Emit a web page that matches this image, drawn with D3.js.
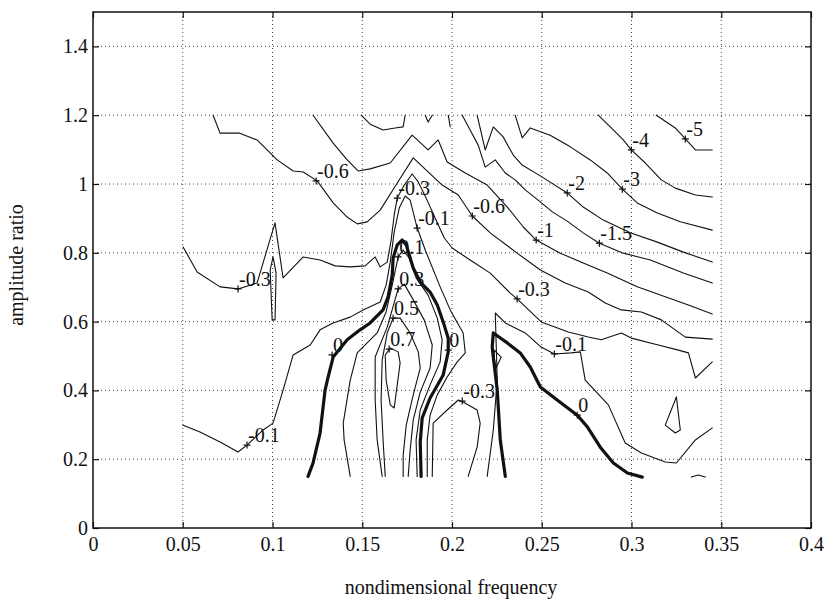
<!DOCTYPE html>
<html>
<head>
<meta charset="utf-8">
<script src="https://cdn.jsdelivr.net/npm/d3@7"></script>
<style>
    body { margin: 0; background: #fff; }
    text { font-family: "Liberation Serif", "Times New Roman", serif; fill: #111; }
</style>
</head>
<body>
<svg id="chart"></svg>
<script>
// axis ticks
const xTicks = [0, 0.05, 0.1, 0.15, 0.2, 0.25, 0.3, 0.35, 0.4];
const xTickLabels = ["0", "0.05", "0.1", "0.15", "0.2", "0.25", "0.3", "0.35", "0.4"];
const yTicks = [0, 0.2, 0.4, 0.6, 0.8, 1, 1.2, 1.4];
const yTickLabels = ["0", "0.2", "0.4", "0.6", "0.8", "1", "1.2", "1.4"];

// contour lines, points are [nondimensional frequency, amplitude ratio]
const cM5 = [[0.3138,1.2],[0.3244,1.163],[0.3300,1.131],[0.3356,1.099],[0.345,1.099]];
const cM4 = [[0.2815,1.2],[0.2887,1.163],[0.2954,1.128],[0.2999,1.099],[0.3077,1.061],[0.3166,1.012],[0.3244,0.988],[0.3356,0.968],[0.345,0.962]];
const cM3 = [[0.2352,1.2],[0.2391,1.134],[0.2436,1.163],[0.2547,1.142],[0.2659,1.108],[0.2770,1.070],[0.2865,1.032],[0.2949,0.985],[0.3032,0.945],[0.3144,0.916],[0.3272,0.890],[0.345,0.866]];
const cM2 = [[0.2140,1.2],[0.2185,1.099],[0.2230,1.166],[0.2285,1.137],[0.2341,1.084],[0.2391,1.055],[0.2503,1.020],[0.2642,0.974],[0.2731,0.933],[0.2843,0.895],[0.2993,0.858],[0.3144,0.831],[0.3289,0.802],[0.345,0.773]];
const cM15 = [[0.2057,1.2],[0.2101,1.157],[0.2146,1.113],[0.2185,1.049],[0.2241,1.070],[0.2297,1.032],[0.2352,1.012],[0.2408,0.983],[0.2480,0.953],[0.2559,0.919],[0.2642,0.892],[0.2731,0.858],[0.2821,0.828],[0.2954,0.799],[0.3105,0.779],[0.3289,0.741],[0.345,0.712]];
const cM15top = [[0.1494,1.2],[0.1544,1.174],[0.1616,1.157],[0.1683,1.163],[0.1728,1.166],[0.1739,1.2]];
const cM15bit = [[0.1851,1.2],[0.1867,1.180],[0.1890,1.2]];
const cM15stub = [[0.1979,1.2],[0.1990,1.166]];
const cM1 = [[0.1226,1.2],[0.1338,1.119],[0.1416,1.070],[0.1477,1.038],[0.1544,1.044],[0.1656,1.061],[0.1778,1.142],[0.1867,1.099],[0.1923,1.128],[0.1973,1.064],[0.2074,1.032],[0.2196,0.997],[0.2308,0.933],[0.2397,0.875],[0.2469,0.837],[0.2603,0.799],[0.2731,0.770],[0.2865,0.741],[0.3032,0.701],[0.3188,0.672],[0.3317,0.648],[0.345,0.622]];
const cM06 = [[0.0669,1.2],[0.0708,1.148],[0.0814,1.148],[0.0914,1.128],[0.1026,1.070],[0.1115,1.038],[0.1171,1.035],[0.1249,1.009],[0.1338,0.945],[0.1416,0.904],[0.1472,0.884],[0.1527,0.890],[0.1600,0.924],[0.1695,1.003],[0.1784,1.076],[0.1867,1.035],[0.1945,0.997],[0.2035,0.968],[0.2113,0.907],[0.2213,0.858],[0.2363,0.799],[0.2492,0.750],[0.2631,0.712],[0.2759,0.686],[0.2854,0.654],[0.2943,0.634],[0.3055,0.628],[0.3166,0.605],[0.3300,0.555],[0.345,0.549]];
const cM03 = [[0.0502,0.817],[0.0580,0.744],[0.0708,0.701],[0.0808,0.695],[0.0914,0.712],[0.1014,0.887],[0.1059,0.727],[0.1171,0.788],[0.1265,0.779],[0.1349,0.762],[0.1433,0.759],[0.1516,0.762],[0.1572,0.788],[0.1600,0.759],[0.1639,0.773],[0.1661,0.837],[0.1678,0.910],[0.1695,0.959],[0.1734,0.997],[0.1778,1.029],[0.1812,1.006],[0.1856,0.959],[0.1906,0.901],[0.1957,0.843],[0.2001,0.814],[0.2101,0.779],[0.2213,0.741],[0.2324,0.683],[0.2363,0.666],[0.2497,0.599],[0.2648,0.570],[0.2759,0.555],[0.2832,0.547],[0.2943,0.567],[0.2999,0.552],[0.3149,0.532],[0.3261,0.517],[0.3317,0.509],[0.3356,0.436],[0.345,0.483]];
const cM03spike = [[0.0987,0.750],[0.1003,0.788],[0.1020,0.741],[0.1014,0.605],[0.0998,0.605],[0.0987,0.750]];
const cM03loop = [[0.1890,0.15],[0.1895,0.305],[0.1973,0.343],[0.2035,0.372],[0.2062,0.366],[0.2140,0.343],[0.2157,0.305],[0.2140,0.235],[0.2090,0.15]];
const cM01 = [[0.0502,0.299],[0.0596,0.279],[0.0708,0.250],[0.0808,0.221],[0.0858,0.241],[0.0948,0.285],[0.1003,0.305],[0.1059,0.401],[0.1115,0.503],[0.1210,0.532],[0.1265,0.576],[0.1338,0.596],[0.1433,0.613],[0.1505,0.634],[0.1600,0.657],[0.1633,0.706],[0.1656,0.773],[0.1678,0.860],[0.1706,0.930],[0.1739,0.965],[0.1767,0.953],[0.1806,0.872],[0.1851,0.808],[0.1934,0.701],[0.1990,0.634],[0.2062,0.567],[0.2074,0.509],[0.2029,0.483],[0.1973,0.439],[0.1918,0.387],[0.1878,0.328],[0.1862,0.256],[0.1862,0.15]];
const cM01right = [[0.2196,0.15],[0.2230,0.285],[0.2252,0.430],[0.2241,0.625],[0.2297,0.596],[0.2408,0.567],[0.2497,0.526],[0.2570,0.506],[0.2664,0.509],[0.2715,0.512],[0.2742,0.430],[0.2871,0.358],[0.2965,0.247],[0.3055,0.218],[0.3188,0.192],[0.3250,0.189],[0.3356,0.256],[0.345,0.291]];
const cM01diamond = [[0.2235,0.517],[0.2274,0.497],[0.2246,0.465],[0.2235,0.494],[0.2235,0.517]];
const cM01tri = [[0.3250,0.381],[0.3272,0.285],[0.3244,0.276],[0.3188,0.299],[0.3250,0.381]];
const cM01dash = [[0.3333,0.148],[0.3372,0.154],[0.3411,0.148]];
const c0 = [[0.1198,0.15],[0.1226,0.189],[0.1265,0.276],[0.1282,0.352],[0.1293,0.401],[0.1310,0.439],[0.1338,0.497],[0.1416,0.547],[0.1488,0.576],[0.1544,0.596],[0.1616,0.634],[0.1644,0.672],[0.1667,0.735],[0.1672,0.785],[0.1695,0.823],[0.1722,0.837],[0.1745,0.823],[0.1784,0.756],[0.1823,0.715],[0.1878,0.686],[0.1918,0.648],[0.1951,0.599],[0.1979,0.552],[0.1979,0.512],[0.1951,0.445],[0.1878,0.378],[0.1834,0.320],[0.1823,0.250],[0.1828,0.15]];
const c0right = [[0.2297,0.15],[0.2269,0.256],[0.2252,0.401],[0.2230,0.497],[0.2224,0.526],[0.2230,0.567],[0.2308,0.538],[0.2380,0.509],[0.2436,0.468],[0.2492,0.410],[0.2586,0.372],[0.2698,0.328],[0.2754,0.294],[0.2826,0.235],[0.2899,0.189],[0.2977,0.160],[0.3060,0.148]];
const c01 = [[0.1433,0.15],[0.1399,0.256],[0.1394,0.305],[0.1433,0.430],[0.1472,0.509],[0.1583,0.567],[0.1633,0.628],[0.1667,0.706],[0.1700,0.788],[0.1728,0.808],[0.1761,0.785],[0.1800,0.727],[0.1867,0.677],[0.1918,0.610],[0.1945,0.547],[0.1934,0.483],[0.1878,0.416],[0.1823,0.343],[0.1800,0.256],[0.1806,0.15]];
const c03 = [[0.1611,0.15],[0.1583,0.256],[0.1572,0.372],[0.1572,0.497],[0.1639,0.584],[0.1700,0.695],[0.1734,0.709],[0.1778,0.669],[0.1845,0.605],[0.1890,0.532],[0.1878,0.465],[0.1823,0.395],[0.1784,0.314],[0.1767,0.227],[0.1756,0.15]];
const c05 = [[0.1628,0.15],[0.1616,0.256],[0.1605,0.372],[0.1611,0.488],[0.1639,0.567],[0.1672,0.610],[0.1711,0.610],[0.1767,0.567],[0.1812,0.512],[0.1823,0.465],[0.1784,0.387],[0.1745,0.299],[0.1728,0.212],[0.1728,0.15]];
const c07 = [[0.1628,0.503],[0.1656,0.523],[0.1700,0.512],[0.1711,0.480],[0.1695,0.416],[0.1678,0.349],[0.1656,0.358],[0.1633,0.430],[0.1628,0.503]];

// clabel positions (the "+" sits on the line)
const contourLabels = [
    {t: "-0.6", x: 0.1243, y: 1.009}, {t: "-0.3", x: 0.0808, y: 0.695},
    {t: "-0.1", x: 0.0858, y: 0.241}, {t: "0", x: 0.1332, y: 0.503},
    {t: "-0.3", x: 0.1695, y: 0.959}, {t: "-0.1", x: 0.1806, y: 0.872},
    {t: "0.1", x: 0.1700, y: 0.788}, {t: "0.3", x: 0.1700, y: 0.695},
    {t: "0.5", x: 0.1672, y: 0.610}, {t: "0.7", x: 0.1650, y: 0.520},
    {t: "0", x: 0.1979, y: 0.517}, {t: "-0.3", x: 0.2057, y: 0.369},
    {t: "-0.6", x: 0.2113, y: 0.907}, {t: "-1", x: 0.2469, y: 0.837},
    {t: "-2", x: 0.2642, y: 0.974}, {t: "-1.5", x: 0.2821, y: 0.828},
    {t: "-3", x: 0.2949, y: 0.985}, {t: "-4", x: 0.2999, y: 1.099},
    {t: "-5", x: 0.3300, y: 1.131}, {t: "-0.3", x: 0.2363, y: 0.666},
    {t: "-0.1", x: 0.2570, y: 0.506}, {t: "0", x: 0.2698, y: 0.328}
];

const contours = [
    {level: -5, pts: cM5}, {level: -4, pts: cM4}, {level: -3, pts: cM3},
    {level: -2, pts: cM2}, {level: -1.5, pts: cM15}, {level: -1.5, pts: cM15top},
    {level: -1.5, pts: cM15bit}, {level: -1.5, pts: cM15stub}, {level: -1, pts: cM1},
    {level: -0.6, pts: cM06}, {level: -0.3, pts: cM03}, {level: -0.3, pts: cM03spike},
    {level: -0.3, pts: cM03loop}, {level: -0.1, pts: cM01}, {level: -0.1, pts: cM01right},
    {level: -0.1, pts: cM01diamond}, {level: -0.1, pts: cM01tri}, {level: -0.1, pts: cM01dash},
    {level: 0, pts: c0}, {level: 0, pts: c0right},
    {level: 0.1, pts: c01}, {level: 0.3, pts: c03}, {level: 0.5, pts: c05}, {level: 0.7, pts: c07}
];

function ContourChart() {
    const dims = {width: 828, height: 601, left: 93, right: 811, top: 12, bottom: 528};
    let svg, xScale, yScale;

    this.init = function(selector) {
        svg = d3.select(selector)
            .attr("width", dims.width)
            .attr("height", dims.height);
        xScale = d3.scaleLinear().domain([0, 0.4]).range([dims.left, dims.right]);
        yScale = d3.scaleLinear().domain([0, 1.5]).range([dims.bottom, dims.top]);
        appendGrid();
        appendContours();
        appendLabels();
        appendAxes();
        appendTitles();
    };

    function appendGrid() {
        let grid = svg.append("g")
            .attr("stroke", "#444")
            .attr("stroke-width", 1)
            .attr("stroke-dasharray", "1,3");
        grid.selectAll(".vgrid").data(xTicks.slice(1, -1))
            .enter().append("line")
            .attr("class", "vgrid")
            .attr("x1", d => xScale(d)).attr("x2", d => xScale(d))
            .attr("y1", dims.top).attr("y2", dims.bottom);
        grid.selectAll(".hgrid").data(yTicks.slice(1))
            .enter().append("line")
            .attr("class", "hgrid")
            .attr("y1", d => yScale(d)).attr("y2", d => yScale(d))
            .attr("x1", dims.left).attr("x2", dims.right);
    }

    function appendContours() {
        let line = d3.line()
            .x(d => xScale(d[0]))
            .y(d => yScale(d[1]));

        svg.append("g").selectAll("path").data(contours)
            .enter().append("path")
            .attr("d", d => line(d.pts))
            .attr("fill", "none")
            .attr("stroke", "#111")
            .attr("stroke-linejoin", "round")
            .attr("stroke-linecap", "round")
            .attr("stroke-width", d => d.level === 0 ? 3.2 : 1.1);
    }

    function appendLabels() {
        let lab = svg.append("g").selectAll("g").data(contourLabels)
            .enter().append("g")
            .attr("transform", d => "translate(" + xScale(d.x) + "," + yScale(d.y) + ")");

        lab.append("path")
            .attr("d", "M-3.5,0H3.5M0,-3.5V3.5")
            .attr("stroke", "#111")
            .attr("stroke-width", 1.2);

        lab.append("text")
            .attr("x", 1)
            .attr("y", -3)
            .style("font-size", "20px")
            .text(d => d.t);
    }

    function appendAxes() {
        let xAxis = d3.axisBottom(xScale)
            .tickValues(xTicks)
            .tickFormat((d, i) => xTickLabels[i])
            .tickSize(-6).tickSizeOuter(0).tickPadding(9);
        let yAxis = d3.axisLeft(yScale)
            .tickValues(yTicks)
            .tickFormat((d, i) => yTickLabels[i])
            .tickSize(-6).tickSizeOuter(0).tickPadding(5);

        let gx = svg.append("g")
            .attr("transform", "translate(0," + dims.bottom + ")")
            .call(xAxis);
        let gy = svg.append("g")
            .attr("transform", "translate(" + dims.left + ",0)")
            .call(yAxis);
        // MATLAB style inward ticks on the top and right too
        let gt = svg.append("g")
            .attr("transform", "translate(0," + dims.top + ")")
            .call(d3.axisTop(xScale).tickValues(xTicks).tickFormat("").tickSize(-6).tickSizeOuter(0));
        let gr = svg.append("g")
            .attr("transform", "translate(" + dims.right + ",0)")
            .call(d3.axisRight(yScale).tickValues(yTicks).tickFormat("").tickSize(-6).tickSizeOuter(0));

        [gx, gy, gt, gr].forEach(function(g) {
            g.select(".domain").remove();
            g.selectAll(".tick line").attr("stroke", "#111").attr("stroke-width", 1.2);
            g.selectAll(".tick text")
                .style("font-family", "'Liberation Serif', 'Times New Roman', serif")
                .style("font-size", "20px")
                .attr("fill", "#111");
        });

        svg.append("rect")
            .attr("x", dims.left).attr("y", dims.top)
            .attr("width", dims.right - dims.left)
            .attr("height", dims.bottom - dims.top)
            .attr("fill", "none")
            .attr("stroke", "#111")
            .attr("stroke-width", 1.5);
    }

    function appendTitles() {
        svg.append("text")
            .attr("text-anchor", "middle")
            .attr("x", 451)
            .attr("y", 594)
            .style("font-size", "20px")
            .text("nondimensional frequency");

        svg.append("text")
            .attr("text-anchor", "middle")
            .attr("transform", "translate(23,265) rotate(-90)")
            .style("font-size", "20px")
            .text("amplitude ratio");
    }
}

new ContourChart().init("#chart");
</script>
</body>
</html>
